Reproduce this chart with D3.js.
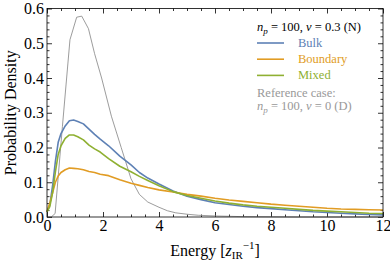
<!DOCTYPE html>
<html lang="en">
<head>
<meta charset="utf-8">
<script src="https://d3js.org/d3.v7.min.js"></script>
<style type="text/css">
body { margin: 0; background: #fff; }
svg text { font-family: "Liberation Serif", "DejaVu Serif", serif; font-weight: normal; }
.axis text { font-size: 16px; fill: #000; }
.axis line { stroke: #000; stroke-width: 0.8; }
.axis path { display: none; }
.line { fill: none; stroke-linejoin: round; }
</style>
</head>
<body>
<script type="text/javascript">
// energy grid shared by the three n_p = 100, nu = 0.3 curves
var energy = [0,0.1,0.2,0.3,0.4,0.5,0.65,0.8,0.95,1.1,1.3,1.5,1.7,1.9,2.2,2.6,3.0,3.3,3.6,4.0,4.5,5,5.5,6,6.5,7,7.5,8,8.5,9,9.5,10,10.5,11,11.5,12];
var bulk = [0.015,0.035,0.09,0.16,0.215,0.24,0.262,0.277,0.279,0.275,0.268,0.253,0.238,0.224,0.205,0.175,0.15,0.128,0.112,0.095,0.075,0.06,0.05,0.041,0.036,0.031,0.027,0.024,0.021,0.018,0.015,0.013,0.011,0.009,0.007,0.006];
var boundary = [0.015,0.04,0.07,0.1,0.118,0.128,0.136,0.141,0.14,0.139,0.136,0.131,0.128,0.123,0.119,0.107,0.097,0.091,0.085,0.078,0.072,0.065,0.06,0.054,0.049,0.045,0.041,0.037,0.034,0.031,0.028,0.025,0.023,0.022,0.021,0.02];
var mixed = [0.015,0.03,0.07,0.13,0.18,0.205,0.226,0.236,0.236,0.231,0.222,0.207,0.196,0.187,0.168,0.146,0.13,0.117,0.105,0.09,0.073,0.062,0.054,0.046,0.04,0.035,0.031,0.028,0.025,0.022,0.019,0.017,0.015,0.013,0.011,0.01];

// reference case n_p = 100, nu = 0 (D)
var refEnergy = [0,0.15,0.29,0.55,0.82,1.06,1.24,1.48,1.7,1.95,2.3,2.65,3.0,3.3,3.6,4.0,4.3,4.6,5.0,5.4,6.0,6.5,7,8,9,12];
var refDensity = [0,0,0.01,0.26,0.51,0.575,0.578,0.542,0.47,0.4,0.29,0.2,0.11,0.065,0.043,0.028,0.018,0.012,0.008,0.005,0.003,0.002,0.001,0.0005,0,0];

var seriesNames = ["Bulk", "Boundary", "Mixed"];
var colors = ["#5E81B5", "#E19C24", "#8FB032"];
var refColor = "#8a8a8a";
var refTextColor = "#999999";

var xTicks = [0,2,4,6,8,10,12];
var yTicks = [0,0.1,0.2,0.3,0.4,0.5,0.6];

var margin = {top: 8.5, right: 7, bottom: 45, left: 47},
    W = 390, H = 262,
    width = W - margin.left - margin.right,
    height = H - margin.top - margin.bottom;

var x = d3.scaleLinear().domain([0,12]).range([0,width]);
var y = d3.scaleLinear().domain([0,0.6]).range([height,0]);

var svg = d3.select("body").append("svg")
    .attr("width", W)
    .attr("height", H);

var g = svg.append("g")
    .attr("transform", "translate(" + margin.left + "," + margin.top + ")");

var xMinor = d3.range(0, 12.01, 0.5).filter(function(d) { return d % 2 !== 0; });
var yMinor = d3.range(0, 0.601, 0.02).filter(function(d) { return Math.abs(d*10 - Math.round(d*10)) > 1e-6; });

function axisStyle(sel) {
  sel.attr("font-family", null).attr("font-size", null);
}

// bottom
g.append("g").attr("class", "axis").attr("transform", "translate(0," + height + ")")
  .call(d3.axisBottom(x).tickValues(xTicks).tickSize(-5).tickPadding(3).tickFormat(d3.format("d"))).call(axisStyle);
g.append("g").attr("class", "axis").attr("transform", "translate(0," + height + ")")
  .call(d3.axisBottom(x).tickValues(xMinor).tickSize(-2.5).tickFormat(""));
// top
g.append("g").attr("class", "axis")
  .call(d3.axisTop(x).tickValues(xTicks).tickSize(-5).tickFormat(""));
g.append("g").attr("class", "axis")
  .call(d3.axisTop(x).tickValues(xMinor).tickSize(-2.5).tickFormat(""));
// left
g.append("g").attr("class", "axis")
  .call(d3.axisLeft(y).tickValues(yTicks).tickSize(-5).tickPadding(3).tickFormat(d3.format(".1f"))).call(axisStyle);
g.append("g").attr("class", "axis")
  .call(d3.axisLeft(y).tickValues(yMinor).tickSize(-2.5).tickFormat(""));
// right
g.append("g").attr("class", "axis").attr("transform", "translate(" + width + ",0)")
  .call(d3.axisRight(y).tickValues(yTicks).tickSize(-5).tickFormat(""));
g.append("g").attr("class", "axis").attr("transform", "translate(" + width + ",0)")
  .call(d3.axisRight(y).tickValues(yMinor).tickSize(-2.5).tickFormat(""));

var line = d3.line()
    .x(function(d) { return x(d[0]); })
    .y(function(d) { return y(d[1]); });

g.append("path")
    .datum(d3.zip(refEnergy, refDensity))
    .attr("class", "line")
    .attr("stroke", refColor)
    .attr("stroke-width", 0.85)
    .attr("d", line);

[bulk, boundary, mixed].forEach(function(s, i) {
  g.append("path")
    .datum(d3.zip(energy, s))
    .attr("class", "line")
    .attr("stroke", colors[i])
    .attr("stroke-width", 1.6)
    .attr("d", line);
});

// frame
g.append("rect")
    .attr("width", width)
    .attr("height", height)
    .attr("fill", "none")
    .attr("stroke", "#000")
    .attr("stroke-width", 0.8);

// axis titles
var xt = svg.append("text")
    .attr("x", margin.left + width/2)
    .attr("y", 256)
    .attr("text-anchor", "middle")
    .style("font-size", "16px");
xt.append("tspan").text("Energy [");
xt.append("tspan").style("font-style", "italic").text("z");
xt.append("tspan").attr("dy", 3).style("font-size", "11px").text("IR");
xt.append("tspan").attr("dy", -10).style("font-size", "11px").text("\u22121");
xt.append("tspan").attr("dy", 7).text("]");

svg.append("text")
    .attr("transform", "translate(16," + (margin.top + height/2) + ") rotate(-90)")
    .attr("text-anchor", "middle")
    .style("font-size", "16px")
    .text("Probability Density");

// legend
var legend = svg.append("g").style("font-size", "12.5px");

function npLabel(sel, nu, tag) {
  sel.append("tspan").style("font-style", "italic").text("n");
  sel.append("tspan").attr("dy", 2.5).style("font-style", "italic").style("font-size", "9px").text("p");
  sel.append("tspan").attr("dy", -2.5).text(" = 100, ");
  sel.append("tspan").style("font-style", "italic").text("\u03BD");
  sel.append("tspan").text(" = " + nu + " (" + tag + ")");
}

npLabel(legend.append("text").attr("x", 257).attr("y", 31), "0.3", "N");

seriesNames.forEach(function(name, i) {
  var ly = 43 + i*16.2;
  legend.append("line")
    .attr("x1", 257).attr("x2", 284)
    .attr("y1", ly).attr("y2", ly)
    .attr("stroke", colors[i])
    .attr("stroke-width", 1.6);
  legend.append("text")
    .attr("x", 298).attr("y", ly + 4)
    .attr("fill", colors[i])
    .text(name);
});

legend.append("text")
    .attr("x", 257).attr("y", 96.5)
    .attr("fill", refTextColor)
    .text("Reference case:");
npLabel(legend.append("text").attr("x", 257).attr("y", 110).attr("fill", refTextColor), "0", "D");
</script>
</body>
</html>
